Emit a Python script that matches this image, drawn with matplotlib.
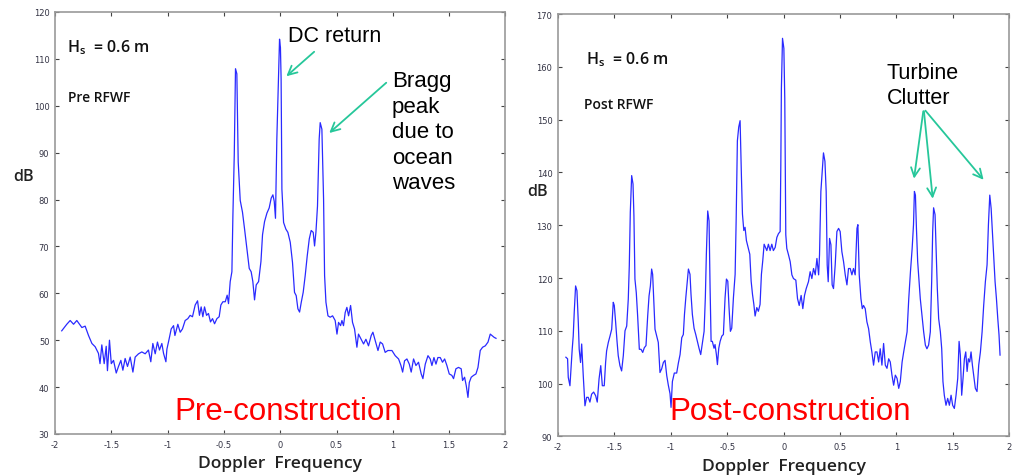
import matplotlib
matplotlib.use("Agg")
import matplotlib.pyplot as plt

# Doppler spectra (dB) before and after the wind farm was built
pre_freq = [
    -1.940, -1.895, -1.865, -1.835, -1.806, -1.761, -1.732, -1.702, -1.672, -1.643,
    -1.614, -1.600, -1.584, -1.563, -1.545, -1.534, -1.516, -1.500, -1.480, -1.456,
    -1.436, -1.415, -1.397, -1.377, -1.356, -1.332, -1.308, -1.288, -1.258, -1.229,
    -1.199, -1.170, -1.149, -1.131, -1.110, -1.090, -1.072, -1.051, -1.036, -1.015,
    -1.006, -0.986, -0.968, -0.947, -0.935, -0.909, -0.888, -0.868, -0.844, -0.820,
    -0.800, -0.779, -0.755, -0.734, -0.717, -0.702, -0.687, -0.672, -0.654, -0.637,
    -0.619, -0.601, -0.583, -0.562, -0.542, -0.527, -0.509, -0.488, -0.471, -0.459,
    -0.444, -0.429, -0.420, -0.408, -0.397, -0.385, -0.373, -0.355, -0.335, -0.317,
    -0.296, -0.275, -0.258, -0.243, -0.228, -0.213, -0.192, -0.171, -0.157, -0.139,
    -0.118, -0.098, -0.080, -0.065, -0.053, -0.042, -0.030, -0.015, -0.006, 0.002,
    0.008, 0.015, 0.030, 0.050, 0.068, 0.089, 0.109, 0.127, 0.142, 0.157,
    0.172, 0.187, 0.204, 0.222, 0.240, 0.258, 0.275, 0.293, 0.305, 0.317,
    0.331, 0.346, 0.355, 0.370, 0.385, 0.394, 0.406, 0.424, 0.444, 0.465,
    0.488, 0.504, 0.518, 0.536, 0.548, 0.562, 0.577, 0.592, 0.607, 0.625,
    0.642, 0.660, 0.681, 0.695, 0.719, 0.740, 0.761, 0.784, 0.808, 0.823,
    0.844, 0.868, 0.888, 0.909, 0.932, 0.956, 0.992, 1.021, 1.051, 1.072,
    1.087, 1.104, 1.125, 1.146, 1.163, 1.184, 1.205, 1.228, 1.252, 1.267,
    1.288, 1.312, 1.332, 1.347, 1.365, 1.383, 1.400, 1.421, 1.441, 1.460,
    1.480, 1.501, 1.524, 1.539, 1.560, 1.583, 1.607, 1.619, 1.637, 1.652,
    1.667, 1.679, 1.696, 1.717, 1.738, 1.756, 1.776, 1.797, 1.821, 1.845,
    1.865, 1.880, 1.900, 1.916,
]
pre_db = [
    52.0, 53.4, 54.2, 53.4, 54.2, 52.7, 53.0, 51.0, 49.3, 48.6,
    47.2, 45.0, 49.0, 45.0, 48.7, 43.5, 50.0, 45.0, 45.7, 43.0,
    44.4, 45.7, 43.6, 46.1, 44.4, 46.4, 43.2, 46.4, 47.1, 47.5,
    47.1, 47.9, 45.4, 49.3, 47.1, 49.6, 47.9, 49.3, 47.2, 45.4,
    48.1, 50.3, 52.4, 53.1, 51.0, 53.4, 51.7, 52.4, 54.2, 54.6,
    55.3, 55.0, 57.5, 58.4, 55.3, 57.1, 55.0, 57.1, 55.3, 55.7,
    53.9, 54.6, 53.5, 54.6, 55.0, 57.5, 58.2, 58.2, 59.6, 57.8,
    62.5, 64.6, 76.7, 89.5, 107.9, 106.8, 88.0, 79.8, 77.3, 73.8,
    69.5, 65.3, 64.6, 62.5, 58.6, 61.8, 62.5, 66.8, 72.5, 75.3,
    77.1, 78.2, 80.3, 81.0, 79.6, 76.0, 92.9, 105.7, 114.2, 112.4,
    105.7, 82.2, 75.1, 73.7, 73.0, 70.9, 66.6, 60.2, 59.5, 56.7,
    56.0, 58.1, 60.2, 63.8, 68.0, 71.6, 73.4, 73.0, 70.1, 73.0,
    78.6, 92.9, 96.4, 95.0, 80.1, 63.8, 58.1, 55.2, 54.9, 55.2,
    54.2, 51.3, 53.8, 53.1, 54.2, 53.1, 55.9, 57.0, 55.2, 57.4,
    53.8, 52.4, 48.5, 51.3, 50.2, 49.2, 50.2, 48.8, 51.0, 51.7,
    49.9, 47.8, 49.6, 49.2, 47.4, 47.8, 47.8, 46.7, 46.0, 44.6,
    43.2, 45.6, 46.0, 44.9, 43.2, 46.0, 44.6, 45.3, 42.8, 41.8,
    44.9, 46.7, 46.0, 44.6, 46.3, 44.9, 46.3, 46.3, 45.3, 46.0,
    44.6, 42.8, 42.5, 41.8, 43.9, 44.2, 43.9, 41.4, 42.1, 40.3,
    37.8, 41.0, 42.1, 42.5, 42.8, 44.2, 47.8, 48.5, 48.8, 49.6,
    51.3, 51.0, 50.6, 50.4,
]

post_freq = [
    -1.930, -1.915, -1.909, -1.894, -1.886, -1.874, -1.865, -1.856, -1.844, -1.832,
    -1.820, -1.812, -1.800, -1.790, -1.776, -1.761, -1.746, -1.732, -1.717, -1.702,
    -1.684, -1.666, -1.652, -1.636, -1.621, -1.607, -1.590, -1.578, -1.569, -1.554,
    -1.539, -1.524, -1.510, -1.501, -1.489, -1.477, -1.466, -1.451, -1.436, -1.421,
    -1.406, -1.391, -1.377, -1.368, -1.359, -1.347, -1.335, -1.327, -1.318, -1.306,
    -1.294, -1.279, -1.264, -1.249, -1.235, -1.220, -1.205, -1.193, -1.181, -1.170,
    -1.161, -1.149, -1.140, -1.125, -1.111, -1.096, -1.081, -1.066, -1.051, -1.036,
    -1.022, -1.007, -0.998, -0.986, -0.969, -0.948, -0.933, -0.918, -0.903, -0.889,
    -0.879, -0.867, -0.856, -0.844, -0.830, -0.821, -0.809, -0.794, -0.779, -0.765,
    -0.750, -0.735, -0.720, -0.705, -0.694, -0.685, -0.673, -0.661, -0.652, -0.643,
    -0.632, -0.617, -0.608, -0.596, -0.587, -0.575, -0.563, -0.548, -0.534, -0.519,
    -0.507, -0.495, -0.484, -0.472, -0.460, -0.445, -0.430, -0.421, -0.410, -0.398,
    -0.386, -0.374, -0.365, -0.353, -0.342, -0.330, -0.315, -0.300, -0.288, -0.276,
    -0.264, -0.253, -0.238, -0.224, -0.209, -0.197, -0.185, -0.173, -0.161, -0.149,
    -0.135, -0.120, -0.105, -0.091, -0.075, -0.060, -0.046, -0.031, -0.025, -0.020,
    -0.010, 0.002, 0.010, 0.019, 0.028, 0.043, 0.058, 0.073, 0.087, 0.108,
    0.123, 0.138, 0.155, 0.170, 0.185, 0.200, 0.220, 0.235, 0.250, 0.265,
    0.280, 0.295, 0.310, 0.318, 0.330, 0.342, 0.353, 0.366, 0.377, 0.386,
    0.395, 0.407, 0.419, 0.430, 0.442, 0.457, 0.472, 0.487, 0.501, 0.516,
    0.531, 0.546, 0.561, 0.575, 0.590, 0.605, 0.619, 0.634, 0.650, 0.658,
    0.670, 0.685, 0.697, 0.708, 0.723, 0.738, 0.753, 0.768, 0.782, 0.797,
    0.812, 0.827, 0.842, 0.856, 0.871, 0.886, 0.901, 0.916, 0.931, 0.945,
    0.960, 0.975, 0.990, 1.005, 1.020, 1.034, 1.050, 1.064, 1.079, 1.094,
    1.109, 1.124, 1.139, 1.151, 1.159, 1.168, 1.177, 1.188, 1.200, 1.211,
    1.226, 1.241, 1.256, 1.270, 1.285, 1.300, 1.312, 1.321, 1.329, 1.342,
    1.351, 1.362, 1.374, 1.389, 1.401, 1.412, 1.424, 1.439, 1.454, 1.469,
    1.484, 1.498, 1.513, 1.528, 1.543, 1.555, 1.566, 1.578, 1.590, 1.602,
    1.614, 1.626, 1.637, 1.649, 1.661, 1.673, 1.684, 1.699, 1.714, 1.729,
    1.744, 1.759, 1.773, 1.788, 1.803, 1.815, 1.827, 1.839, 1.850, 1.862,
    1.874, 1.886, 1.898, 1.909, 1.918,
]
post_db = [
    105.0, 104.7, 101.2, 99.6, 102.4, 106.5, 109.0, 113.5, 118.5, 117.6,
    111.6, 106.5, 104.0, 107.5, 101.5, 95.8, 97.4, 97.4, 96.5, 98.0,
    98.4, 97.7, 96.5, 100.9, 103.4, 99.6, 99.6, 104.0, 106.2, 107.8,
    109.0, 110.3, 115.4, 114.8, 111.6, 108.1, 105.3, 103.4, 102.4, 105.3,
    110.0, 110.9, 116.0, 122.3, 132.5, 139.4, 137.8, 131.8, 119.8, 117.2,
    112.8, 106.5, 106.5, 105.9, 106.8, 107.2, 112.8, 116.6, 118.5, 121.7,
    120.7, 114.8, 110.3, 109.0, 107.8, 102.1, 102.8, 104.0, 104.4, 101.5,
    99.7, 98.1, 95.5, 100.4, 102.0, 102.0, 103.9, 105.5, 108.7, 109.3,
    113.1, 116.3, 118.8, 121.7, 120.7, 116.9, 113.1, 110.5, 109.3, 108.0,
    106.7, 105.5, 107.7, 109.9, 116.3, 124.5, 132.7, 130.8, 118.2, 108.0,
    108.0, 106.7, 107.4, 105.5, 103.6, 106.7, 108.0, 109.0, 109.3, 116.3,
    119.8, 119.4, 114.4, 109.9, 110.5, 116.3, 120.7, 130.8, 146.0, 148.6,
    149.8, 139.1, 132.1, 129.0, 129.6, 127.1, 125.8, 124.5, 119.4, 116.9,
    115.0, 112.8, 114.4, 113.7, 115.0, 120.7, 123.3, 126.4, 125.8, 125.2,
    126.4, 125.2, 126.4, 125.2, 125.8, 127.7, 128.4, 128.8, 141.4, 155.9,
    165.4, 163.5, 154.0, 128.2, 125.6, 124.4, 123.1, 120.6, 119.9, 119.6,
    116.1, 114.8, 116.7, 114.2, 116.7, 118.0, 119.3, 121.2, 119.9, 121.8,
    120.6, 123.7, 120.6, 124.4, 136.4, 140.2, 143.7, 142.1, 136.4, 122.5,
    119.3, 127.5, 126.3, 118.7, 118.0, 122.5, 128.8, 129.4, 128.8, 125.0,
    123.1, 120.6, 118.7, 121.8, 121.8, 120.6, 121.8, 120.6, 129.4, 130.1,
    120.6, 116.1, 114.2, 114.8, 114.2, 111.7, 110.4, 107.9, 106.0, 103.5,
    106.0, 106.0, 104.1, 106.6, 103.5, 107.6, 103.5, 102.9, 104.7, 104.1,
    101.6, 99.7, 101.6, 101.0, 99.1, 100.4, 104.1, 106.0, 107.9, 109.8,
    116.1, 121.2, 125.6, 130.1, 136.4, 135.7, 129.4, 123.1, 119.3, 116.1,
    113.0, 109.8, 107.3, 106.6, 107.3, 109.8, 119.3, 128.8, 133.3, 132.0,
    125.6, 118.0, 112.3, 109.8, 106.6, 100.4, 97.8, 95.9, 97.2, 95.9,
    97.8, 95.9, 95.3, 97.8, 101.0, 108.0, 105.4, 97.8, 101.0, 104.7,
    106.0, 102.3, 104.7, 104.1, 106.0, 103.5, 101.6, 99.1, 98.5, 103.5,
    106.0, 109.8, 114.8, 119.3, 122.5, 130.1, 135.7, 133.2, 128.8, 123.7,
    119.3, 116.1, 112.3, 109.2, 105.4,
]

x_ticks = [-2, -1.5, -1, -0.5, 0, 0.5, 1, 1.5, 2]
x_ticklabels = ["-2", "-1.5", "-1", "-0.5", "0", "0.5", "1", "1.5", "2"]

LINE = "#2a2aff"
ARROW = "#26c79a"
LABEL_FONT = ["Liberation Sans", "DejaVu Sans"]
PANEL_FONT = ["Open Sans", "DejaVu Sans"]

fig = plt.figure(figsize=(10.16, 4.77), dpi=100)
ax1 = fig.add_axes([0.0541, 0.0881, 0.4434, 0.8847])
ax2 = fig.add_axes([0.5492, 0.0830, 0.4442, 0.8855])


def style_axes(ax, ylim, yticks):
    ax.set_xlim(-2, 2)
    ax.set_ylim(*ylim)
    ax.set_xticks(x_ticks)
    ax.set_xticklabels(x_ticklabels)
    ax.set_yticks(yticks)
    ax.tick_params(direction="in", top=True, right=True, length=3, width=0.8,
                   labelsize=6, labelcolor="#333344", color="#444444", pad=4)
    for sp in ax.spines.values():
        sp.set_color("#999999")
        sp.set_linewidth(1.2)
    ax.set_xlabel("Doppler  Frequency", fontsize=12.5, color="#222222",
                  fontweight="semibold", family=PANEL_FONT)
    ax.set_ylabel("dB", fontsize=11.5, color="#222222", rotation=0,
                  fontweight="semibold", family=PANEL_FONT, va="center")


def panel_note(ax, x, y, s, size):
    ax.text(x, y, s, fontsize=size, va="center", fontweight="semibold",
            color="#111111", family=PANEL_FONT)


# left: before construction
ax1.plot(pre_freq, pre_db, color=LINE, linewidth=0.9)
style_axes(ax1, (30, 120), range(30, 121, 10))
ax1.xaxis.set_label_coords(0.5, -0.05)
ax1.yaxis.set_label_coords(-0.069, 0.611)
panel_note(ax1, -1.89, 112.5, "H$_\\mathregular{s}$  = 0.6 m", 11.5)
panel_note(ax1, -1.88, 101.9, "Pre RFWF", 10)
ax1.text(0.07, 115.0, "DC return", fontsize=15.5, va="center", family=LABEL_FONT)
ax1.text(0.99, 107.6, "Bragg\npeak\ndue to\nocean\nwaves", fontsize=16,
         va="top", linespacing=1.28, family=LABEL_FONT)
ax1.annotate("", xy=(0.036, 105.9), xytext=(0.32, 111.9),
             arrowprops=dict(arrowstyle="->", color=ARROW, lw=1.3,
                             mutation_scale=16))
ax1.annotate("", xy=(0.417, 93.8), xytext=(0.96, 105.3),
             arrowprops=dict(arrowstyle="->", color=ARROW, lw=1.3,
                             mutation_scale=16))
ax1.text(0.07, 34.9, "Pre-construction", fontsize=22.5, color="#ff0000",
         ha="center", va="center", family=LABEL_FONT)

# right: after construction
ax2.plot(post_freq, post_db, color=LINE, linewidth=0.9)
style_axes(ax2, (90, 170), range(90, 171, 10))
ax2.xaxis.set_label_coords(0.5, -0.05)
ax2.yaxis.set_label_coords(-0.045, 0.581)
panel_note(ax2, -1.75, 161.6, "H$_\\mathregular{s}$  = 0.6 m", 11.5)
panel_note(ax2, -1.77, 152.9, "Post RFWF", 10)
ax2.text(0.912, 160.9, "Turbine\nClutter", fontsize=15.5, va="top", ha="left",
         linespacing=1.22, family=LABEL_FONT)
for hx, hy in [(1.152, 138.3), (1.324, 134.5), (1.788, 138.2)]:
    ax2.annotate("", xy=(hx, hy), xytext=(1.241, 152.1),
                 arrowprops=dict(arrowstyle="->", color=ARROW, lw=1.3,
                                 mutation_scale=16))
ax2.text(0.06, 94.8, "Post-construction", fontsize=22.5, color="#ff0000",
         ha="center", va="center", family=LABEL_FONT)

fig.savefig("out.png", dpi=100, facecolor="white")
